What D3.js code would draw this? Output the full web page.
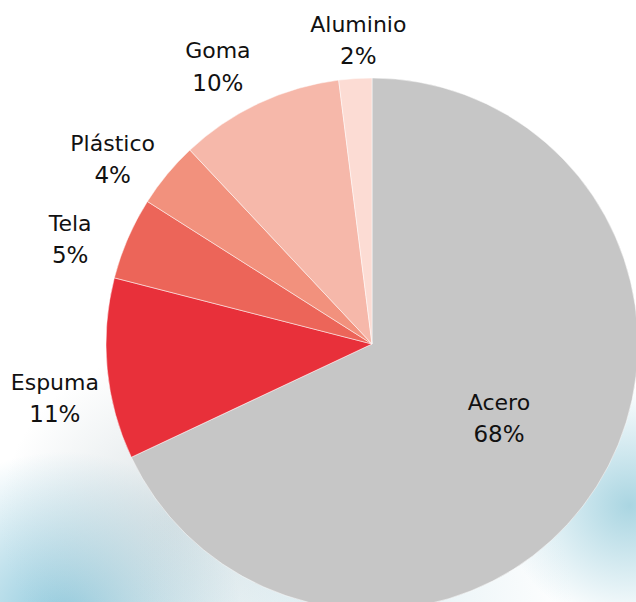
<!DOCTYPE html>
<html>
<head>
<meta charset="utf-8">
<script src="https://cdn.jsdelivr.net/npm/d3@7"></script>
<style>
  html, body { margin: 0; padding: 0; background: #fff; }
  svg { display: block; }
  text { font-family: "DejaVu Sans", Verdana, sans-serif; fill: #111; }
</style>
</head>
<body>
<svg id="chart" width="636" height="602"></svg>
<script>
// materiales y porcentajes
var materials = ["Acero", "Espuma", "Tela", "Plástico", "Goma", "Aluminio"];
var shares = [68, 11, 5, 4, 10, 2];
var colors = ["#c6c6c6", "#e8303a", "#ec6559", "#f2917d", "#f6b8aa", "#fcdcd4"];

var width = 636, height = 602;
var cx = 372, cy = 344, radius = 266;

var svg = d3.select("#chart");

// fondo: foto desvaida azulada abajo
var defs = svg.append("defs");
var bgSpots = [
    {id: "bgA", x: 0.10, y: 1.03, r: 0.28, c: "#5fb3cf", o: 0.7},
    {id: "bgB", x: 0.28, y: 0.86, r: 0.28, c: "#b9c8cd", o: 0.5},
    {id: "bgC", x: 0.99, y: 0.84, r: 0.2, c: "#7cbfd2", o: 0.65},
    {id: "bgD", x: 0.55, y: 1.0, r: 0.35, c: "#b5d8e2", o: 0.45}
];
bgSpots.forEach(function(s) {
    var g = defs.append("radialGradient").attr("id", s.id)
	.attr("cx", s.x).attr("cy", s.y).attr("r", s.r);
    g.append("stop").attr("offset", "0%").attr("stop-color", s.c).attr("stop-opacity", s.o);
    g.append("stop").attr("offset", "100%").attr("stop-color", s.c).attr("stop-opacity", 0);
});
svg.append("rect").attr("width", width).attr("height", height).attr("fill", "#fff");
bgSpots.forEach(function(s) {
    svg.append("rect").attr("width", width).attr("height", height)
	.attr("fill", "url(#" + s.id + ")");
});

var data = materials.map(function(m, i) {
    return {name: m, value: shares[i], color: colors[i]};
});

var pie = d3.pie().sort(null).value(function(d) { return d.value; });
var arcs = pie(data);

var arc = d3.arc().innerRadius(0).outerRadius(radius);

var g = svg.append("g").attr("transform", "translate(" + cx + "," + cy + ")");

g.selectAll(".slice")
    .data(arcs)
    .enter().append("path")
    .attr("class", "slice")
    .attr("d", arc)
    .attr("fill", function(d) { return d.data.color; })
    .attr("stroke", "#fff")
    .attr("stroke-width", 0.5);

// etiquetas: dentro para la porcion grande, fuera para las demas
var inner = d3.arc().innerRadius(145).outerRadius(145);
var outer = d3.arc().innerRadius(321).outerRadius(321);
var shift = -3.5 * Math.PI / 180;
var labelNudge = {"Aluminio": [26, 10]};

var label = g.selectAll(".label")
    .data(arcs)
    .enter().append("text")
    .attr("class", "label")
    .attr("text-anchor", "middle")
    .attr("font-size", 22)
    .attr("transform", function(d) {
	var a = {startAngle: d.startAngle + shift, endAngle: d.endAngle + shift};
	var p = d.data.value > 50 ? inner.centroid(a) : outer.centroid(a);
	var n = labelNudge[d.data.name] || [0, 0];
	return "translate(" + (p[0] + n[0]) + "," + (p[1] + n[1]) + ")";
    });

label.append("tspan").attr("x", 0).attr("dy", "-0.18em")
    .text(function(d) { return d.data.name; });
label.append("tspan").attr("x", 0).attr("dy", "1.4em")
    .attr("font-size", 23)
    .text(function(d) { return d.data.value + "%"; });
</script>
</body>
</html>
